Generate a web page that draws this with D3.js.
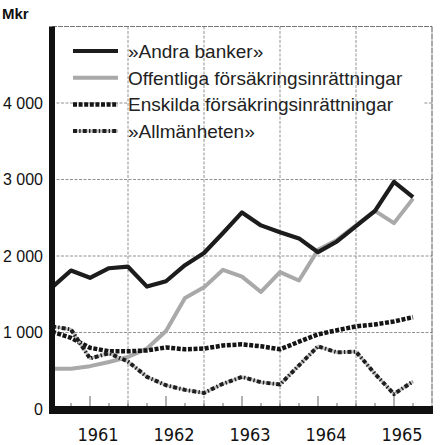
<!DOCTYPE html>
<html><head><meta charset="utf-8">
<script src="https://cdn.jsdelivr.net/npm/d3@7"></script>
<style>
html,body{margin:0;padding:0;background:#fff;}
svg{display:block;}
</style></head>
<body>
<svg id="c" width="440" height="445"></svg>
<script>
// quarterly observations, end of 1960 Q4 through 1965 Q3
const quarters = ["1960 IV","1961 I","1961 II","1961 III","1961 IV","1962 I","1962 II","1962 III","1962 IV",
  "1963 I","1963 II","1963 III","1963 IV","1964 I","1964 II","1964 III","1964 IV","1965 I","1965 II","1965 III"];
const andraBanker = [1590,1810,1715,1840,1860,1600,1670,1880,2040,2300,2570,2400,2310,2230,2050,2190,2390,2590,2970,2770];
const offentliga  = [525,525,560,615,680,790,1020,1450,1590,1820,1730,1530,1790,1680,2080,2210,2400,2590,2430,2750];
const enskilda    = [1010,930,800,755,755,765,805,780,790,830,845,820,780,880,975,1030,1080,1105,1145,1200];
const allmanheten = [1080,1040,660,730,620,420,310,250,210,330,420,350,320,570,820,740,750,460,195,360];
const seriesNames = ["»Andra banker»","Offentliga försäkringsinrättningar","Enskilda försäkringsinrättningar","»Allmänheten»"];
const yTicks = [0,1000,2000,3000,4000];
const yTickLabels = ["0","1 000","2 000","3 000","4 000"];
const years = ["1961","1962","1963","1964","1965"];
const unitLabel = "Mkr";

const svg = d3.select("#c");
const x = d3.scaleLinear().domain([0,20]).range([52,432]);
const y = d3.scaleLinear().domain([0,5000]).range([409,26.5]);
const xi = (d,i)=>x(i);

// grid
const g = svg.append("g");
g.selectAll("line.h").data(yTicks.filter(v=>v>0 && v<4000)).join("line")
  .attr("x1",x(0)).attr("x2",x(20)).attr("y1",d=>y(d)).attr("y2",d=>y(d))
  .attr("stroke","#777").attr("stroke-width",0.8).attr("stroke-dasharray","3,1.5");
// 4000 line only partly visible (legend area)
[[0,4],[19.6,20]].forEach(s=>{
  g.append("line").attr("x1",x(s[0])).attr("x2",x(s[1])).attr("y1",y(4000)).attr("y2",y(4000))
   .attr("stroke","#777").attr("stroke-width",0.8).attr("stroke-dasharray","3,1.5");
});
g.selectAll("line.v").data([4,8,12,16]).join("line")
  .attr("x1",d=>x(d)).attr("x2",d=>x(d)).attr("y1",y(5000)).attr("y2",y(0))
  .attr("stroke","#777").attr("stroke-width",0.8).attr("stroke-dasharray","3,1.5");
// frame top/right
svg.append("line").attr("x1",x(0)).attr("x2",x(20)).attr("y1",y(5000)).attr("y2",y(5000))
  .attr("stroke","#666").attr("stroke-width",0.9).attr("stroke-dasharray","5,1");
svg.append("line").attr("x1",x(20)).attr("x2",x(20)).attr("y1",y(5000)).attr("y2",y(0))
  .attr("stroke","#555").attr("stroke-width",1).attr("stroke-dasharray","6,1");

// bottom ticks (quarters)
svg.append("g").selectAll("line").data(quarters).join("line")
  .attr("x1",xi).attr("x2",xi).attr("y1",y(0))
  .attr("y2",(d,i)=> i%4===2 ? y(0)-13 : y(0)-6)
  .attr("stroke","#555").attr("stroke-width",0.9);

const line = d3.line().x(xi).y(d=>y(d));
const styles = [
  {data:andraBanker, layers:[{stroke:"#1c1c1c",w:4.2,dash:null}]},
  {data:offentliga,  layers:[{stroke:"#a9a9a9",w:4,dash:null}]},
  {data:enskilda,    layers:[{stroke:"#151515",w:4.5,dash:"4,1.6"}]},
  {data:allmanheten, layers:[{stroke:"#bdbdbd",w:3,dash:null},{stroke:"#1e1e1e",w:4,dash:"4,2.2,1.4,2.2"}]}
];
const drawOrder = [1,0,2,3];
drawOrder.forEach(k=>{
  styles[k].layers.forEach(L=>{
    svg.append("path").attr("d",line(styles[k].data)).attr("fill","none")
      .attr("stroke",L.stroke).attr("stroke-width",L.w).attr("stroke-linejoin","round")
      .attr("stroke-dasharray",L.dash);
  });
});

// axes bars
svg.append("rect").attr("x",49).attr("y",y(5000)).attr("width",6).attr("height",y(0)-y(5000)+5).attr("fill","#111");
svg.append("rect").attr("x",49).attr("y",y(0)-3).attr("width",x(20)-49+1).attr("height",8).attr("fill","#111");

// y labels
svg.append("g").selectAll("text").data(yTicks).join("text")
  .attr("x",43).attr("y",d=>y(d)).attr("dy","0.36em").attr("text-anchor","end")
  .attr("font-family","Liberation Sans, Arial, sans-serif").attr("font-size",16).attr("fill","#111")
  .text((d,i)=>yTickLabels[i]);
svg.append("text").attr("x",2).attr("y",19).attr("font-family","Liberation Sans, Arial, sans-serif")
  .attr("font-weight","bold").attr("font-size",15).attr("fill","#111").text(unitLabel);

// year labels
svg.append("g").selectAll("text").data(years).join("text")
  .attr("x",(d,i)=>x(2+4*i)+8).attr("y",441).attr("text-anchor","middle")
  .attr("font-family","Liberation Sans Narrow, DejaVu Sans Condensed, sans-serif").attr("font-size",18).attr("fill","#111")
  .text(d=>d);

// legend
const leg = svg.append("g");
seriesNames.forEach((name,k)=>{
  const ry = 51 + k*26.7;
  styles[k].layers.forEach(L=>{
    leg.append("line").attr("x1",73).attr("x2",118).attr("y1",ry).attr("y2",ry)
      .attr("stroke",L.stroke).attr("stroke-width",L.w).attr("stroke-dasharray",L.dash);
  });
  leg.append("text").attr("x",128).attr("y",ry).attr("dy","0.36em")
    .attr("font-family","Liberation Sans, Arial, sans-serif").attr("font-size",19).attr("fill","#222")
    .text(name);
});
</script>
</body></html>
